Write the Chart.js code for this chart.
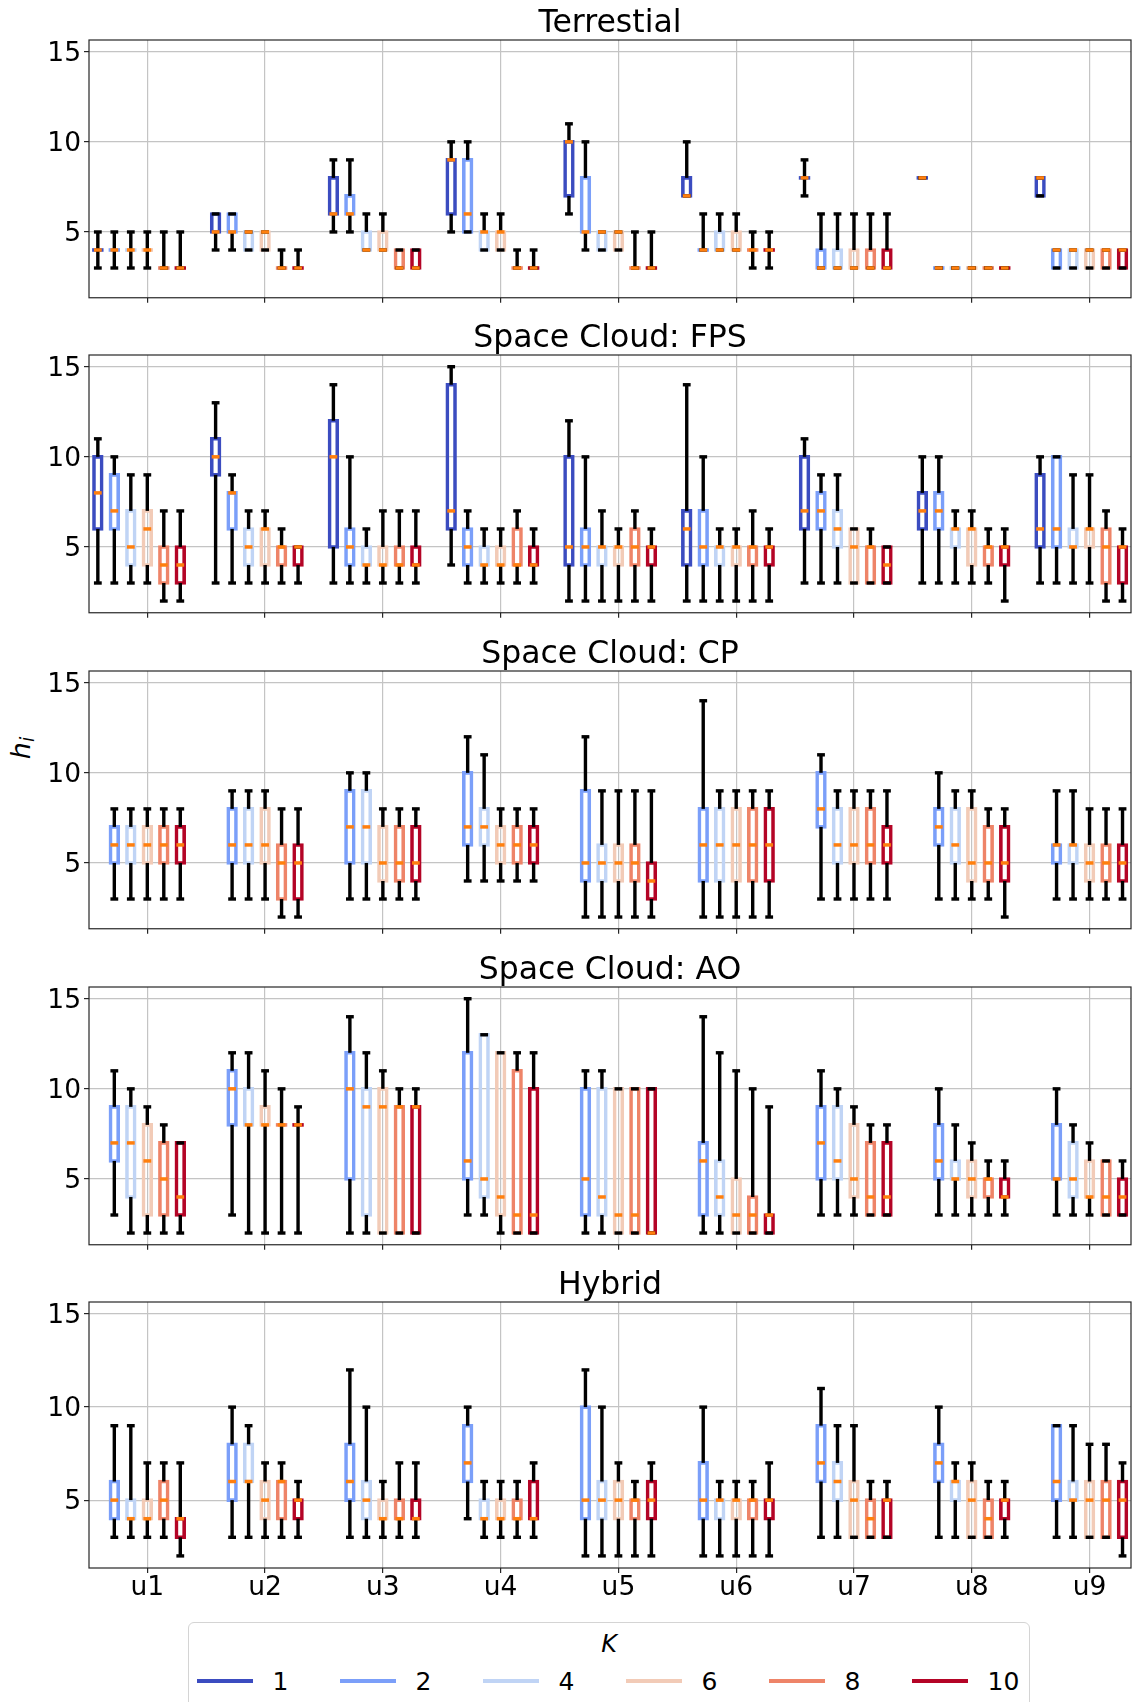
<!DOCTYPE html>
<html>
<head>
<meta charset="utf-8">
<script src="https://cdn.jsdelivr.net/npm/chart.js@4.4.1/dist/chart.umd.min.js"></script>
<style>
  html, body { margin: 0; padding: 0; background: #fff; }
  body { position: relative; width: 1133px; height: 1702px; overflow: hidden; font-family: 'DejaVu Sans', sans-serif; }
  canvas.panel { position: absolute; left: 0; }
  #ylabel {
    position: absolute; left: 22px; top: 748px;
    transform: translate(-50%, -50%) rotate(-90deg);
    font: italic 27px 'DejaVu Sans', sans-serif; line-height: 1; white-space: nowrap; color: #000;
  }
  #ylabel sub { font-size: 0.7em; vertical-align: -0.25em; }
  #legend {
    position: absolute; left: 188px; top: 1622px; width: 840px; height: 120px;
    border: 1px solid #d4d4d4; border-radius: 6px; background: #fff;
  }
  #legend .ltitle {
    position: absolute; left: 0; right: 0; top: 9px; text-align: center;
    font: italic 24px 'DejaVu Sans', sans-serif; line-height: 24px; color: #000;
  }
  #legend .litem { position: absolute; top: 47px; height: 24px; width: 130px; }
  #legend .lline { position: absolute; left: 0; top: 9px; width: 56px; height: 4px; }
  #legend .ltext { position: absolute; left: 76px; top: 0; font: 25px 'DejaVu Sans', sans-serif; line-height: 24px; color: #000; }
</style>
</head>
<body>
<div id="ylabel">h<sub>i</sub></div>
<div id="legend"><div class="ltitle">K</div></div>
<script>
// ---- categories and labels ----
const USERS = ['u1', 'u2', 'u3', 'u4', 'u5', 'u6', 'u7', 'u8', 'u9'];
const K_VALUES = [1, 2, 4, 6, 8, 10];
const Y_TICKS = [5, 10, 15];
const PANEL_TITLES = ['Terrestial', 'Space Cloud: FPS', 'Space Cloud: CP', 'Space Cloud: AO', 'Hybrid'];

// ---- box statistics per user: [whisker low, Q1, median, Q3, whisker high] ----
// Terrestial
const terK1  = [[3,4,4,4,5],[4,5,5,6,6],[5,6,6,8,9],[5,6,9,9,10],[6,7,10,10,11],[7,7,7,8,10],[7,8,8,8,9],[8,8,8,8,8],[7,7,8,8,8]];
const terK2  = [[3,4,4,4,5],[4,5,5,6,6],[5,6,6,7,9],[5,5,6,9,10],[4,5,5,8,10],[4,4,4,4,6],[3,3,3,4,6],[3,3,3,3,3],[3,3,4,4,4]];
const terK4  = [[3,4,4,4,5],[4,4,5,5,5],[4,4,4,5,6],[4,4,5,5,6],[4,4,5,5,5],[4,4,4,5,6],[3,3,3,4,6],[3,3,3,3,3],[3,3,4,4,4]];
const terK6  = [[3,4,4,4,5],[4,4,5,5,5],[4,4,4,5,6],[4,4,5,5,6],[4,4,5,5,5],[4,4,4,5,6],[3,3,3,4,6],[3,3,3,3,3],[3,3,4,4,4]];
const terK8  = [[3,3,3,3,5],[3,3,3,3,4],[3,3,3,4,4],[3,3,3,3,4],[3,3,3,3,5],[3,4,4,4,5],[3,3,3,4,6],[3,3,3,3,3],[3,3,4,4,4]];
const terK10 = [[3,3,3,3,5],[3,3,3,3,4],[3,3,3,4,4],[3,3,3,3,4],[3,3,3,3,5],[3,4,4,4,5],[3,3,3,4,6],[3,3,3,3,3],[3,3,4,4,4]];
// Space Cloud: FPS
const fpsK1  = [[3,6,8,10,11],[3,9,10,11,13],[3,5,10,12,14],[4,6,7,14,15],[2,4,5,10,12],[2,4,6,7,14],[3,6,7,10,11],[3,6,7,8,10],[3,5,6,9,10]];
const fpsK2  = [[3,6,7,9,10],[3,6,8,8,9],[3,4,5,6,10],[3,4,5,6,7],[2,4,5,6,10],[2,4,5,7,10],[3,6,7,8,9],[3,6,7,8,10],[3,5,6,10,10]];
const fpsK4  = [[3,4,5,7,9],[3,4,5,6,7],[3,4,4,5,6],[3,4,4,5,6],[2,4,5,5,7],[2,4,5,5,6],[3,5,6,7,9],[3,5,6,6,7],[3,5,5,6,9]];
const fpsK6  = [[3,4,6,7,9],[3,4,6,6,7],[3,4,4,5,7],[3,4,4,5,6],[2,4,5,5,6],[2,4,5,5,6],[3,3,5,6,6],[3,4,6,6,7],[3,5,6,6,9]];
const fpsK8  = [[2,3,4,5,7],[3,4,5,5,6],[3,4,4,5,7],[3,4,4,6,7],[2,4,5,6,7],[2,4,5,5,7],[3,3,5,5,6],[3,4,5,5,6],[2,3,5,6,7]];
const fpsK10 = [[2,3,4,5,7],[3,4,5,5,5],[3,4,4,5,7],[3,4,4,5,6],[2,4,5,5,6],[2,4,5,5,6],[3,3,4,5,5],[2,4,5,5,6],[2,3,5,5,6]];
// Space Cloud: CP (no K = 1 runs)
const cpK2  = [[3,5,6,7,8],[3,5,6,8,9],[3,5,7,9,10],[4,6,7,10,12],[2,4,5,9,12],[2,4,6,8,14],[3,7,8,10,11],[3,6,7,8,10],[3,5,6,6,9]];
const cpK4  = [[3,5,6,7,8],[3,5,6,8,9],[3,5,7,9,10],[4,6,7,8,11],[2,4,5,6,9],[2,4,6,8,9],[3,5,6,8,9],[3,5,6,8,9],[3,5,6,6,9]];
const cpK6  = [[3,5,6,7,8],[3,5,6,8,9],[3,4,5,7,8],[4,5,6,7,8],[2,4,5,6,9],[2,4,6,8,9],[3,5,6,8,9],[3,4,5,8,9],[3,4,5,6,8]];
const cpK8  = [[3,5,6,7,8],[2,3,5,6,8],[3,4,5,7,8],[4,5,6,7,8],[2,4,5,6,9],[2,4,6,8,9],[3,5,6,8,9],[3,4,5,7,8],[3,4,5,6,8]];
const cpK10 = [[3,5,6,7,8],[2,3,5,6,8],[3,4,5,7,8],[4,5,6,7,8],[2,3,4,5,9],[2,4,6,8,9],[3,5,6,7,9],[2,4,5,7,8],[3,4,5,6,8]];
// Space Cloud: AO (no K = 1 runs)
const aoK2  = [[3,6,7,9,11],[3,8,10,11,12],[2,5,10,12,14],[3,5,6,12,15],[2,3,5,10,11],[2,3,6,7,14],[3,5,7,9,11],[3,5,6,8,10],[3,5,5,8,10]];
const aoK4  = [[2,4,7,9,10],[2,8,8,10,12],[2,3,9,10,12],[3,4,5,13,13],[2,3,4,10,11],[2,3,4,6,12],[3,5,6,9,10],[3,5,5,6,8],[3,4,5,7,8]];
const aoK6  = [[2,3,6,8,9],[2,8,8,9,11],[2,2,9,10,11],[2,3,4,12,12],[2,2,3,10,10],[2,2,3,5,11],[3,4,5,8,9],[3,4,5,6,7],[3,4,4,6,7]];
const aoK8  = [[2,3,5,7,8],[2,8,8,8,10],[2,2,9,9,10],[2,2,3,11,12],[2,2,3,10,10],[2,2,3,4,10],[3,3,4,7,8],[3,4,5,5,6],[3,3,4,6,6]];
const aoK10 = [[2,3,4,7,7],[2,8,8,8,9],[2,2,9,9,10],[2,2,3,10,12],[2,2,2,10,10],[2,2,3,3,9],[3,3,4,7,8],[3,4,4,5,6],[3,3,4,5,6]];
// Hybrid (no K = 1 runs)
const hybK2  = [[3,4,5,6,9],[3,5,6,8,10],[3,5,6,8,12],[4,6,7,9,10],[2,4,5,10,12],[2,4,5,7,10],[3,6,7,9,11],[3,6,7,8,10],[3,5,6,9,9]];
const hybK4  = [[3,4,4,5,9],[3,6,6,8,9],[3,4,5,6,10],[3,4,4,5,6],[2,4,5,6,10],[2,4,5,5,6],[3,5,6,7,9],[3,5,6,6,7],[3,5,5,6,9]];
const hybK6  = [[3,4,4,5,7],[3,4,5,6,7],[3,4,4,5,6],[3,4,4,5,6],[2,4,5,6,7],[2,4,5,5,6],[3,3,5,6,9],[3,3,5,6,7],[3,3,5,6,8]];
const hybK8  = [[3,4,5,6,7],[3,4,6,6,7],[3,4,4,5,7],[3,4,4,5,6],[2,4,5,5,6],[2,4,5,5,6],[3,3,4,5,6],[3,3,4,5,6],[3,3,5,6,8]];
const hybK10 = [[2,3,4,4,7],[3,4,5,5,6],[3,4,4,5,7],[3,4,4,6,7],[2,4,5,6,7],[2,4,5,5,7],[3,3,5,5,6],[3,4,5,5,6],[2,3,5,6,7]];

const PANEL_SERIES = [
  [terK1, terK2, terK4, terK6, terK8, terK10],
  [fpsK1, fpsK2, fpsK4, fpsK6, fpsK8, fpsK10],
  [null, cpK2, cpK4, cpK6, cpK8, cpK10],
  [null, aoK2, aoK4, aoK6, aoK8, aoK10],
  [null, hybK2, hybK4, hybK6, hybK8, hybK10]
];

// ---- styling ----
const FONT = "'DejaVu Sans', sans-serif";
const K_COLORS = ['#3b4cc0', '#7b9ff9', '#c0d4f5', '#f2cbb7', '#ee8468', '#b40426'];
const MEDIAN_COLOR = '#ff7f0e';
const WHISKER_COLOR = '#000000';
const GRID_COLOR = '#c4c4c4';
const BOX_OFFSETS = [-0.42, -0.28, -0.14, 0, 0.14, 0.28];
const BOX_PX = 7.8;
const BOX_LW = 3.6;
const WHISKER_LW = 3.4;
const MEDIAN_LW = 3.5;
const PLOT_TOPS = [40, 355, 671, 987, 1302];
const PLOT_H = 266;
const TITLE_H = 40;

Chart.defaults.font.family = FONT;
Chart.defaults.color = '#000';

// whiskers, caps and medians on top of the box outlines
const boxDetails = {
  id: 'boxDetails',
  afterDatasetsDraw(chart) {
    const ctx = chart.ctx;
    const y = chart.scales.y;
    const seg = (x1, y1, x2, y2, color, lw) => {
      ctx.beginPath();
      ctx.moveTo(x1, y1);
      ctx.lineTo(x2, y2);
      ctx.strokeStyle = color;
      ctx.lineWidth = lw;
      ctx.stroke();
    };
    ctx.save();
    ctx.lineCap = 'butt';
    chart.data.datasets.forEach((ds, di) => {
      const meta = chart.getDatasetMeta(di);
      meta.data.forEach((bar, j) => {
        const [lo, q1, med, q3, hi] = ds.data[j].stats;
        const x = bar.x;
        const half = bar.width / 2;
        if (q1 === q3) {
          seg(x - half - BOX_LW / 2, y.getPixelForValue(q1), x + half + BOX_LW / 2, y.getPixelForValue(q1), ds.borderColor, BOX_LW);
        }
        seg(x, y.getPixelForValue(q1), x, y.getPixelForValue(lo), WHISKER_COLOR, WHISKER_LW);
        seg(x, y.getPixelForValue(q3), x, y.getPixelForValue(hi), WHISKER_COLOR, WHISKER_LW);
        seg(x - half, y.getPixelForValue(lo), x + half, y.getPixelForValue(lo), WHISKER_COLOR, WHISKER_LW);
        seg(x - half, y.getPixelForValue(hi), x + half, y.getPixelForValue(hi), WHISKER_COLOR, WHISKER_LW);
        seg(x - half, y.getPixelForValue(med), x + half, y.getPixelForValue(med), MEDIAN_COLOR, MEDIAN_LW);
      });
    });
    ctx.restore();
  }
};

// axes frame
const frame = {
  id: 'frame',
  afterDraw(chart) {
    const { ctx, chartArea: a } = chart;
    ctx.save();
    ctx.strokeStyle = '#262626';
    ctx.lineWidth = 1.2;
    ctx.strokeRect(a.left, a.top, a.right - a.left, a.bottom - a.top);
    ctx.restore();
  }
};

PANEL_TITLES.forEach((title, p) => {
  const last = p === PANEL_TITLES.length - 1;
  const bottomExtra = last ? 50 : 8;
  const canvas = document.createElement('canvas');
  canvas.className = 'panel';
  canvas.width = 1133;
  canvas.height = TITLE_H + PLOT_H + bottomExtra;
  canvas.style.top = (PLOT_TOPS[p] - TITLE_H) + 'px';
  document.body.appendChild(canvas);

  const datasets = K_VALUES.map((k, ki) => {
    const series = PANEL_SERIES[p][ki] || [];
    return {
      label: String(k),
      data: series.map((s, ui) => ({ x: ui + 1 + BOX_OFFSETS[ki], y: [s[1], s[3]], stats: s })),
      backgroundColor: 'rgba(0,0,0,0)',
      borderColor: K_COLORS[ki],
      borderWidth: 0.01,
      inflateAmount: BOX_LW / 2,
      borderSkipped: false,
      barThickness: BOX_PX,
      grouped: false
    };
  });

  new Chart(canvas, {
    type: 'bar',
    data: { datasets },
    options: {
      responsive: false,
      animation: false,
      devicePixelRatio: 1,
      events: [],
      layout: { autoPadding: false, padding: { left: 0, right: 2, top: 0, bottom: 0 } },
      plugins: {
        legend: { display: false },
        tooltip: { enabled: false },
        title: {
          display: true, text: title, fullSize: false, color: '#000',
          font: { family: FONT, size: 31.5, weight: 'normal', lineHeight: 1 },
          padding: { top: 8.5, bottom: 0 }
        }
      },
      scales: {
        x: {
          type: 'linear', min: 0.505, max: 9.352, offset: false,
          afterBuildTicks: (s) => { s.ticks = USERS.map((u, i) => ({ value: i + 1 })); },
          afterFit: (s) => { s.height = bottomExtra; },
          ticks: {
            display: last, autoSkip: false, maxRotation: 0, minRotation: 0, padding: 2,
            color: '#000', font: { family: FONT, size: 26.5, lineHeight: 1 },
            callback: (v) => USERS[Math.round(v) - 1]
          },
          grid: { offset: false, color: GRID_COLOR, lineWidth: 1.2, drawTicks: true, tickLength: 5, tickWidth: 1.2, tickColor: '#262626' },
          border: { display: false }
        },
        y: {
          type: 'linear', min: 1.35, max: 15.65,
          afterBuildTicks: (s) => { s.ticks = Y_TICKS.map((v) => ({ value: v })); },
          afterFit: (s) => { s.width = 89; },
          ticks: { padding: 3, labelOffset: 2, color: '#000', font: { family: FONT, size: 26.5, lineHeight: 1 } },
          grid: { color: GRID_COLOR, lineWidth: 1.2, drawTicks: true, tickLength: 5, tickWidth: 1.2, tickColor: '#262626' },
          border: { display: false }
        }
      }
    },
    plugins: [boxDetails, frame]
  });
});

// legend for K
const legendBox = document.getElementById('legend');
K_VALUES.forEach((k, i) => {
  const item = document.createElement('div');
  item.className = 'litem';
  item.style.left = (7.5 + 143 * i) + 'px';
  const line = document.createElement('span');
  line.className = 'lline';
  line.style.background = K_COLORS[i];
  const text = document.createElement('span');
  text.className = 'ltext';
  text.textContent = String(k);
  item.appendChild(line);
  item.appendChild(text);
  legendBox.appendChild(item);
});
</script>
</body>
</html>
